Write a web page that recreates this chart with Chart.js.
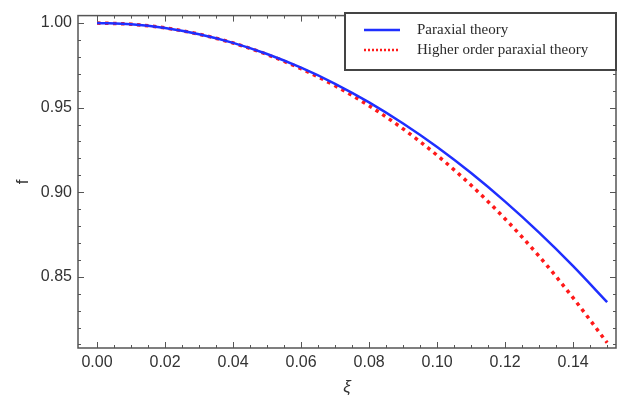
<!DOCTYPE html>
<html>
<head>
<meta charset="utf-8">
<script src="https://cdn.jsdelivr.net/npm/chart.js@4/dist/chart.umd.min.js"></script>
<style>
html,body{margin:0;padding:0;background:#fff;}
#wrap{width:619px;height:396px;}
</style>
</head>
<body>
<div id="wrap"><canvas id="c" width="619" height="396"></canvas></div>
<script>
const xi = [0.00,0.01,0.02,0.03,0.04,0.05,0.06,0.07,0.08,0.09,0.10,0.11,0.12,0.13,0.14,0.15];
const paraxial = [1.000,0.9993,0.9971,0.9934,0.9883,0.9817,0.9736,0.9641,0.9531,0.9406,0.9267,0.9113,0.8944,0.8761,0.8563,0.835];
const higherOrder = [1.000,0.9993,0.9971,0.9934,0.9882,0.9814,0.9730,0.9629,0.9511,0.9374,0.9218,0.9041,0.8842,0.8621,0.8375,0.811];
const seriesNames = ["Paraxial theory","Higher order paraxial theory"];
const xMajor = [0.00,0.02,0.04,0.06,0.08,0.10,0.12,0.14];
const yMajor = [0.85,0.90,0.95,1.00];
const xMinor = [0.005,0.01,0.015,0.025,0.03,0.035,0.045,0.05,0.055,0.065,0.07,0.075,0.085,0.09,0.095,0.105,0.11,0.115,0.125,0.13,0.135,0.145,0.15];
const yMinor = [0.81,0.82,0.83,0.84,0.86,0.87,0.88,0.89,0.91,0.92,0.93,0.94,0.96,0.97,0.98,0.99];

const frameColor = '#555';
const framePlugin = {
  id: 'frameTicks',
  afterDatasetsDraw(chart) {
    const {ctx, chartArea: a, scales: {x, y}} = chart;
    ctx.save();
    ctx.strokeStyle = frameColor;
    ctx.lineWidth = 1;
    const tick = (vals, len, isX) => {
      vals.forEach(v => {
        ctx.beginPath();
        if (isX) {
          const p = Math.round(x.getPixelForValue(v)) + 0.5;
          ctx.moveTo(p, a.bottom); ctx.lineTo(p, a.bottom - len);
          ctx.moveTo(p, a.top); ctx.lineTo(p, a.top + len);
        } else {
          const p = Math.round(y.getPixelForValue(v)) + 0.5;
          ctx.moveTo(a.left, p); ctx.lineTo(a.left + len, p);
          ctx.moveTo(a.right, p); ctx.lineTo(a.right - len, p);
        }
        ctx.stroke();
      });
    };
    tick(xMajor, 6, true); tick(xMinor, 3, true);
    tick(yMajor, 6, false); tick(yMinor, 3, false);
    ctx.lineWidth = 1.5;
    ctx.strokeRect(a.left, a.top, a.right - a.left, a.bottom - a.top);

    // legend box
    const bx = 345, by = 13, bw = 271, bh = 57;
    ctx.fillStyle = '#fff';
    ctx.fillRect(bx, by, bw, bh);
    ctx.strokeStyle = '#444';
    ctx.lineWidth = 2;
    ctx.strokeRect(bx, by, bw, bh);
    chart.data.datasets.forEach((ds, i) => {
      const yy = by + 17 + i * 20;
      ctx.beginPath();
      ctx.strokeStyle = ds.borderColor;
      ctx.lineWidth = 2.5;
      ctx.setLineDash(i === 0 ? [] : [2, 2]);
      ctx.moveTo(364, yy); ctx.lineTo(400, yy);
      ctx.stroke();
      ctx.setLineDash([]);
      ctx.fillStyle = '#2a2a2a';
      ctx.font = '15px "Liberation Serif", serif';
      ctx.textBaseline = 'middle';
      ctx.textAlign = 'left';
      ctx.fillText(ds.label, 417, yy);
    });
    ctx.restore();
  }
};

new Chart(document.getElementById('c'), {
  type: 'line',
  data: {
    datasets: [
      {
        label: seriesNames[0],
        data: xi.map((v, i) => ({x: v, y: paraxial[i]})),
        borderColor: '#1f2fff',
        borderWidth: 2.5,
        pointRadius: 0,
        cubicInterpolationMode: 'monotone',
        fill: false
      },
      {
        label: seriesNames[1],
        data: xi.map((v, i) => ({x: v, y: higherOrder[i]})),
        borderColor: '#ff1a1a',
        borderWidth: 3.5,
        borderDash: [3.5, 4.5],
        pointRadius: 0,
        cubicInterpolationMode: 'monotone',
        fill: false
      }
    ]
  },
  options: {
    responsive: false,
    animation: false,
    layout: {padding: {top: 12, right: 3, left: 0, bottom: 0}},
    plugins: {legend: {display: false}, tooltip: {enabled: false}},
    scales: {
      x: {
        type: 'linear',
        min: -0.0056,
        max: 0.1526,
        afterBuildTicks: s => { s.ticks = xMajor.map(v => ({value: v})); },
        afterFit: s => { s.height = 48; },
        grid: {display: false, drawTicks: false},
        border: {display: false},
        ticks: {
          padding: 5,
          color: '#333',
          font: {family: '"Liberation Sans", Arial, sans-serif', size: 16},
          maxRotation: 0,
          autoSkip: false,
          callback: v => Number(v).toFixed(2)
        },
        title: {
          display: true,
          text: 'ξ',
          color: '#333',
          font: {family: '"Liberation Sans", Arial, sans-serif', size: 17, style: 'italic'},
          padding: {top: 4, bottom: -1}
        }
      },
      y: {
        type: 'linear',
        min: 0.8079,
        max: 1.0044,
        afterBuildTicks: s => { s.ticks = yMajor.map(v => ({value: v})); },
        afterFit: s => { s.width = 78; },
        grid: {display: false, drawTicks: false},
        border: {display: false},
        ticks: {
          padding: 6,
          color: '#333',
          font: {family: '"Liberation Sans", Arial, sans-serif', size: 16},
          autoSkip: false,
          callback: v => Number(v).toFixed(2)
        },
        title: {
          display: true,
          text: 'f',
          color: '#333',
          font: {family: '"Liberation Sans", Arial, sans-serif', size: 17},
          padding: {top: 13, bottom: 4}
        }
      }
    }
  },
  plugins: [framePlugin]
});
</script>
</body>
</html>
